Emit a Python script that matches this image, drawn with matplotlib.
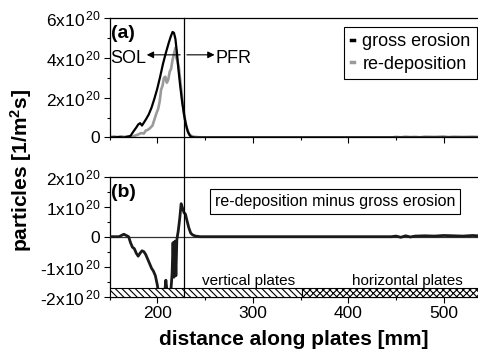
import matplotlib

matplotlib.use("Agg")
import matplotlib.pyplot as plt
import matplotlib.transforms as mtransforms
from matplotlib.lines import Line2D
from matplotlib.patches import Rectangle

plt.rcParams["font.family"] = ["Liberation Sans", "DejaVu Sans"]
plt.rcParams["mathtext.default"] = "regular"
plt.rcParams["hatch.linewidth"] = 0.8

# ---- data (particle fluxes in units of 1e20 1/m^2s, x in mm) -----------------
X_EROSION = [150, 155, 160, 165, 168, 172, 175, 178, 180, 182, 184, 186, 188, 191,
             194, 197, 200, 203, 206, 209, 212, 214, 216, 217.5, 219, 220.5, 222,
             224, 226, 228, 230, 232, 234, 236, 240, 540]
Y_EROSION = [0.0, 0.01, 0.02, 0.0, 0.03, 0.08, 0.3, 0.5, 0.65, 0.72, 0.6, 0.75, 0.9,
             1.15, 1.5, 1.95, 2.45, 3.05, 3.7, 4.25, 4.75, 5.05, 5.3, 5.25, 4.95, 4.3,
             3.5, 2.6, 1.8, 1.15, 0.65, 0.3, 0.1, 0.02, 0.0, 0.0]

X_REDEP = [150, 155, 158, 162, 165, 170, 173, 176, 180, 183, 186, 188, 190, 192, 195,
           197, 199, 201, 202.5, 204, 205.5, 207, 208.5, 210, 211.5, 213, 214.5, 216,
           217.5, 219, 220, 221, 222.5, 224, 225.5, 227, 229, 231, 233, 235, 238, 242,
           250, 445, 450, 455, 460, 465, 470, 475, 480, 490, 500, 505, 510, 520, 530,
           540]
Y_REDEP = [0.02, 0.05, 0.02, 0.06, 0.03, 0.05, 0.02, 0.08, 0.15, 0.22, 0.2, 0.35, 0.38,
           0.45, 0.6, 0.9, 1.2, 1.45, 1.8, 2.4, 2.6, 3.0, 3.05, 2.75, 2.9, 3.3, 3.45,
           3.9, 4.2, 4.5, 4.0, 3.85, 3.55, 2.9, 2.25, 1.6, 0.9, 0.45, 0.2, 0.1, 0.04,
           0.02, 0.0, 0.0, 0.03, 0.01, 0.04, 0.02, 0.03, 0.01, 0.04, 0.03, 0.05, 0.02,
           0.04, 0.03, 0.04, 0.02]

X_DIFF = [150, 160, 163, 165, 167, 170, 172, 174, 176, 178, 180, 182, 184, 186, 188,
          190, 192, 194, 196, 198, 200, 201.5, 203, 204.5, 206, 207.5, 209, 210.5, 212,
          214, 215.5, 216.5, 217.5, 218.5, 219.5, 220.5, 222, 223.5, 225, 226.5, 228,
          229.5, 231, 233, 235, 237, 240, 245, 445, 450, 455, 460, 465, 470, 480, 490,
          500, 510, 520, 530, 540]
Y_DIFF = [0.0, 0.0, 0.05, 0.08, 0.05, 0.0, -0.2, -0.35, -0.4, -0.55, -0.65, -0.55,
          -0.47, -0.5, -0.6, -0.75, -0.9, -1.05, -1.15, -1.3, -1.6, -1.9, -1.9, -1.75,
          -1.85, -1.95, -1.45, -1.9, -2.0, -1.9, -1.25, -0.2, -1.35, -0.15, -1.3, -0.1,
          0.2, 0.6, 1.1, 0.95, 0.8, 0.75, 0.55, 0.3, 0.12, 0.06, 0.02, 0.0, 0.0, 0.02,
          -0.02, 0.03, -0.01, 0.02, 0.03, 0.02, 0.04, 0.03, 0.02, 0.04, 0.02]

SEPARATRIX_MM = 228
PLATE_EDGE_MM = 352
XLIM = (150, 540)
TOP_YTICKS = [0, 2, 4, 6]
BOT_YTICKS = [-2, -1, 0, 1, 2]


def sci_label(v):
    return "0" if v == 0 else f"{v:g}x10$^{{\\,20}}$"


fig = plt.figure(figsize=(4.78, 3.54), dpi=100)
ax1 = fig.add_axes([0.2291, 0.6116, 0.7793, 0.3376])
ax2 = fig.add_axes([0.2291, 0.1619, 0.7793, 0.3390])

# ---- (a) gross erosion and re-deposition ---------------------------------------
ax1.plot(X_EROSION, Y_EROSION, color="black", lw=1.6, label="gross erosion", zorder=3)
ax1.plot(X_REDEP, Y_REDEP, color="#9a9a9a", lw=1.9, label="re-deposition", zorder=2)
ax1.set_xlim(*XLIM)
ax1.set_ylim(0, 6)
ax1.set_yticks(TOP_YTICKS, [sci_label(v) for v in TOP_YTICKS])
ax1.set_yticks(range(0, 7), minor=True)
ax1.set_xticks([200, 300, 400, 500], [])
ax1.set_xticks([150, 250, 350, 450], minor=True)
ax1.text(151.5, 5.23, "(a)", fontsize=14, fontweight="bold", va="center")
ax1.text(151.2, 3.98, "SOL", fontsize=13, va="center")
ax1.text(260.7, 3.98, "PFR", fontsize=13, va="center")
arrow = dict(arrowstyle="-|>", color="black", lw=0.8, mutation_scale=10, shrinkA=0, shrinkB=0)
ax1.annotate("", xy=(189, 4.15), xytext=(224, 4.15), arrowprops=arrow)
ax1.annotate("", xy=(260, 4.15), xytext=(231, 4.15), arrowprops=arrow)
leg = ax1.legend(loc="upper right", bbox_to_anchor=(477 / 478, 1 - 27 / 354),
                 bbox_transform=fig.transFigure, fontsize=13, handlelength=0.2,
                 handletextpad=0.45, borderpad=0.35, labelspacing=0.3,
                 fancybox=False, framealpha=1, edgecolor="black", borderaxespad=0)
leg.get_frame().set_linewidth(0.8)
for h in leg.get_lines():
    h.set_linewidth(2.5)

# ---- (b) net deposition ---------------------------------------------------------
ax2.axhline(0, color="#333333", lw=0.9, zorder=1)
ax2.plot(X_DIFF, Y_DIFF, color="#1a1a1a", lw=2.0, zorder=3)
ax2.set_xlim(*XLIM)
ax2.set_ylim(-2, 2)
ax2.set_yticks(BOT_YTICKS, [sci_label(v) for v in BOT_YTICKS])
ax2.set_yticks([-1.5, -0.5, 0.5, 1.5], minor=True)
ax2.set_xticks([200, 300, 400, 500])
ax2.set_xticks([150, 250, 350, 450], minor=True)
ax2.add_patch(Rectangle((XLIM[0], -2), PLATE_EDGE_MM - XLIM[0], 0.3, facecolor="white",
                        edgecolor="black", hatch="\\\\\\\\\\", lw=0.8, zorder=4))
ax2.add_patch(Rectangle((PLATE_EDGE_MM, -2), XLIM[1] - PLATE_EDGE_MM, 0.3,
                        facecolor="white", edgecolor="black", hatch="xxxxx", lw=0.8,
                        zorder=4))
ax2.text(247, -1.62, "vertical plates", fontsize=11, va="baseline")
ax2.text(404, -1.62, "horizontal plates", fontsize=11, va="baseline")
ax2.text(151.7, 1.47, "(b)", fontsize=14, fontweight="bold", va="center")
ax2.text(260, 1.18, "re-deposition minus gross erosion", fontsize=11.5, va="center",
         bbox=dict(boxstyle="square,pad=0.3", fc="white", ec="black", lw=0.8))

for ax in (ax1, ax2):
    ax.spines["right"].set_visible(False)
    for s in ("left", "top", "bottom"):
        ax.spines[s].set_linewidth(0.9)
    ax.tick_params(axis="both", which="major", direction="out", length=4, width=0.8,
                   pad=2.5, labelsize=12.5)
    ax.tick_params(axis="both", which="minor", direction="out", length=2.5, width=0.8)

# separatrix line through both panels
trans = mtransforms.blended_transform_factory(ax1.transData, fig.transFigure)
fig.add_artist(Line2D([SEPARATRIX_MM, SEPARATRIX_MM], [0.1619, 0.949], transform=trans,
                      color="black", lw=0.9, zorder=5))

fig.text(0.045, 0.518, "particles [1/m$^2$s]", rotation=90, fontsize=15,
         fontweight="bold", ha="center", va="center")
fig.text(0.6145, 0.04, "distance along plates [mm]", fontsize=15, fontweight="bold",
         ha="center", va="center")

fig.savefig("out.png", dpi=100)
